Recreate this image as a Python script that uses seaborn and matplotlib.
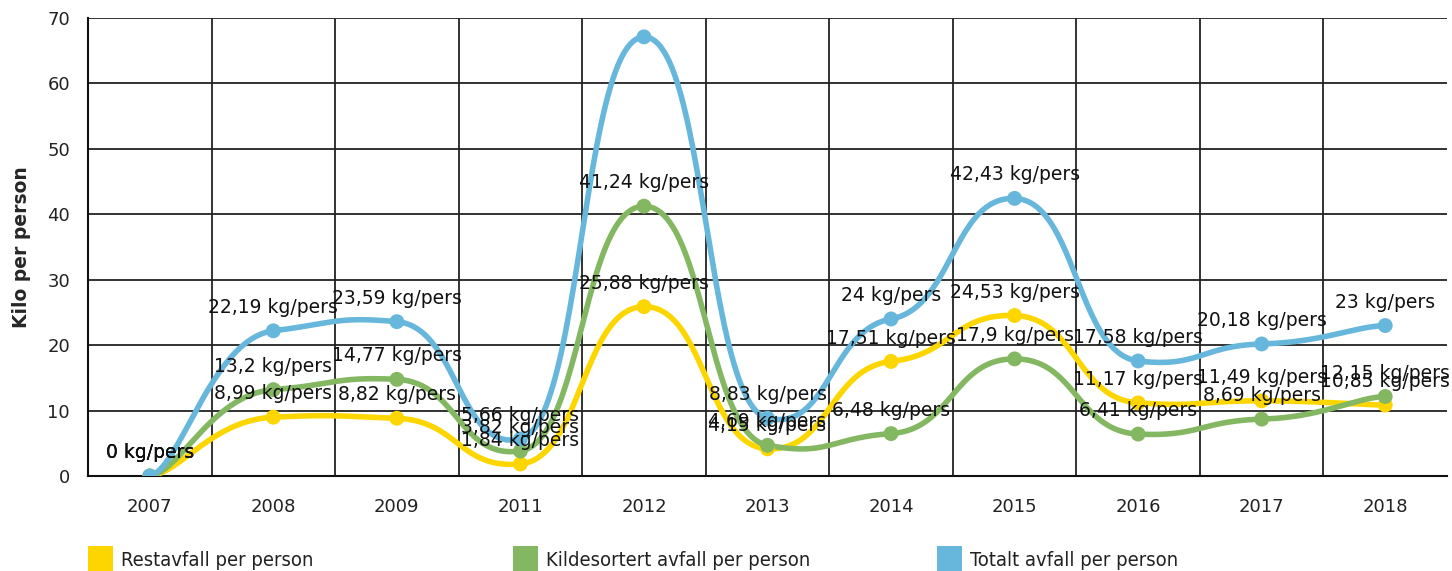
import numpy as np
import pandas as pd
import matplotlib
matplotlib.use("Agg")
import matplotlib.pyplot as plt
from matplotlib.patches import Rectangle
import seaborn as sns

years = ["2007", "2008", "2009", "2011", "2012", "2013", "2014", "2015", "2016", "2017", "2018"]
restavfall = [0, 8.99, 8.82, 1.84, 25.88, 4.15, 17.51, 24.53, 11.17, 11.49, 10.85]
kildesortert = [0, 13.2, 14.77, 3.82, 41.24, 4.69, 6.48, 17.9, 6.41, 8.69, 12.15]
totalt = [0, 22.19, 23.59, 5.66, 67.12, 8.83, 24, 42.43, 17.58, 20.18, 23]

series = [
    ("Restavfall per person", restavfall, "#fdd600"),
    ("Kildesortert avfall per person", kildesortert, "#84b761"),
    ("Totalt avfall per person", totalt, "#67b7dc"),
]

sns.set_style("white")
plt.rcParams["font.family"] = ["DejaVu Sans"]


def smooth_path(x, y, bx=4.0, by=20.0, steps=50):
    # bezier smoothing of the drawn line (tension like a smoothed line chart)
    pts = np.column_stack([np.asarray(x, float), np.asarray(y, float)])
    n = len(pts)
    t = np.linspace(0, 1, steps)[:, None]
    out = [pts[:1]]
    for i in range(n - 1):
        p0, p1, p2, p3 = pts[max(i - 1, 0)], pts[i], pts[i + 1], pts[min(i + 2, n - 1)]
        c1 = p1 + (p2 - p0) / np.array([bx, by])
        c2 = p2 - (p3 - p1) / np.array([bx, by])
        seg = ((1 - t) ** 3) * p1 + 3 * ((1 - t) ** 2) * t * c1 + 3 * (1 - t) * t ** 2 * c2 + t ** 3 * p2
        out.append(seg[1:])
    out = np.vstack(out)
    return out[:, 0], out[:, 1]


fig = plt.figure(figsize=(14.52, 5.71), dpi=100)
ax = fig.add_axes([88 / 1452, 95 / 571, 1359 / 1452, 458 / 571])

idx = np.arange(len(years))
for name, vals, col in series:
    sx, sy = smooth_path(idx, vals)
    sns.lineplot(x=sx, y=sy, ax=ax, color=col, lw=4, sort=False, zorder=3)
    sns.scatterplot(x=idx, y=vals, ax=ax, color=col, s=115, edgecolor="none", zorder=4)
    for i, v in enumerate(vals):
        if v > 60:
            continue
        lab = ("%g" % v).replace(".", ",") + " kg/pers"
        ax.annotate(lab, (i, v), xytext=(0, 10), textcoords="offset points",
                    ha="center", va="bottom", fontsize=13.5, color="#111111", zorder=6)

ax.set_xlim(-0.5, len(years) - 0.5)
ax.set_ylim(0, 70)
ax.set_yticks(range(0, 71, 10))
ax.set_xticks(idx)
ax.set_xticklabels(years)
ax.set_xticks(np.arange(0.5, len(years) - 0.5, 1), minor=True)
ax.grid(True, which="major", axis="y", color="#222222", lw=1.3, zorder=1)
ax.grid(True, which="minor", axis="x", color="#222222", lw=1.3, zorder=1)
ax.tick_params(axis="y", which="major", length=9, width=1.3, color="#222222",
               labelsize=13, pad=4, labelcolor="#222222")
ax.tick_params(axis="x", which="both", length=0, labelsize=13, pad=16, labelcolor="#222222")
for s in ("top", "right"):
    ax.spines[s].set_visible(False)
for s in ("left", "bottom"):
    ax.spines[s].set_color("#111111")
    ax.spines[s].set_linewidth(1.5)
ax.set_ylabel("Kilo per person", fontsize=13.5, fontweight="bold", labelpad=12)

# legend row under the chart
for (name, _, col), lx in zip(series, [88, 513, 937]):
    fig.patches.append(Rectangle((lx / 1452, 0), 25 / 1452, 25 / 571, transform=fig.transFigure,
                                 facecolor=col, edgecolor="none"))
    fig.text((lx + 33) / 1452, 11 / 571, name, fontsize=14.5, color="#222222",
             ha="left", va="center", fontstretch="condensed")

fig.savefig("out.png", dpi=100)
